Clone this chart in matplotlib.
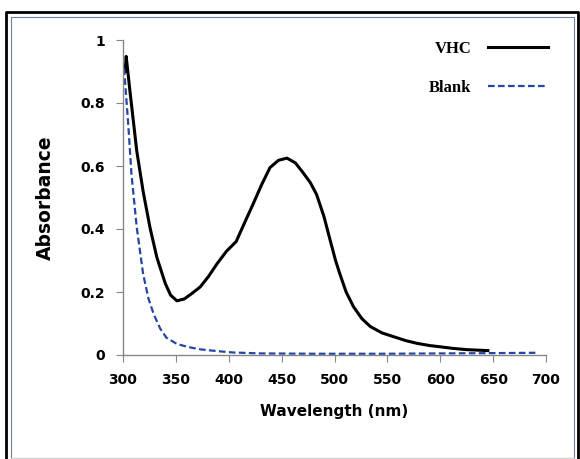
import matplotlib.pyplot as plt
from matplotlib.lines import Line2D

# absorbance spectra
wl_vhc = [302, 303, 306.6, 313, 319, 325.5, 332, 340, 345, 351, 358, 365, 373, 381, 389, 398,
          407, 415, 423, 431, 439, 447, 455, 463, 470, 477, 483, 490, 496, 501, 505, 511,
          518, 526, 534, 545, 556, 567, 578, 590, 600, 612, 625, 645]
abs_vhc = [0.90, 0.948, 0.837, 0.648, 0.52, 0.405, 0.31, 0.227, 0.19, 0.172, 0.178, 0.195, 0.216,
           0.25, 0.29, 0.33, 0.36, 0.42, 0.479, 0.54, 0.595, 0.618, 0.625, 0.61, 0.58, 0.548,
           0.51, 0.44, 0.363, 0.30, 0.258, 0.2, 0.153, 0.115, 0.09, 0.07, 0.058, 0.046, 0.037,
           0.03, 0.026, 0.021, 0.017, 0.014]

wl_blank = [301, 305, 308, 313, 319, 324, 329, 335, 341, 351, 362, 373, 390, 404, 430, 480,
            550, 600, 650, 690]
abs_blank = [0.91, 0.73, 0.574, 0.405, 0.258, 0.18, 0.13, 0.085, 0.055, 0.035, 0.025, 0.018,
             0.012, 0.008, 0.005, 0.004, 0.004, 0.005, 0.006, 0.007]

x_ticks = [300, 350, 400, 450, 500, 550, 600, 650, 700]
y_ticks = [0, 0.2, 0.4, 0.6, 0.8, 1]
y_labels = ["0", "0.2", "0.4", "0.6", "0.8", "1"]

W, H = 580, 459
fig = plt.figure(figsize=(W / 100, H / 100), dpi=100)
ax = fig.add_axes([123 / W, 1 - 355 / H, (546 - 123) / W, (355 - 40) / H])

ax.plot(wl_vhc, abs_vhc, color="black", linewidth=2.2, label="VHC")
ax.plot(wl_blank, abs_blank, color="#2646a6", linewidth=1.6, linestyle=(0, (3, 1.5)), label="Blank")

ax.set_xlim(300, 700)
ax.set_ylim(0, 1)
ax.set_xticks(x_ticks)
ax.set_yticks(y_ticks)
ax.set_yticklabels(y_labels)
for s in ["top", "right"]:
    ax.spines[s].set_visible(False)
for s in ["left", "bottom"]:
    ax.spines[s].set_color("#868686")
    ax.spines[s].set_linewidth(1.0)
ax.tick_params(direction="out", length=5, color="#868686", labelsize=10, pad=8)
for lab in ax.get_xticklabels() + ax.get_yticklabels():
    lab.set_fontweight("bold")

ax.set_xlabel("Wavelength (nm)", fontsize=11, fontweight="bold", labelpad=12)
ax.set_ylabel("Absorbance", fontsize=13.5, fontweight="bold", labelpad=18)

ax.legend(loc="upper right", bbox_to_anchor=(548 / W, 1 - 41 / H), bbox_transform=fig.transFigure,
          frameon=False, markerfirst=False, borderpad=0, borderaxespad=0,
          handlelength=3.6, handletextpad=1.0, labelspacing=1.35,
          prop={"family": "Liberation Serif", "weight": "bold", "size": 12})

# frame lines around the picture
def fline(xs, ys, **kw):
    fig.add_artist(Line2D([x / W for x in xs], [1 - y / H for y in ys], transform=fig.transFigure, **kw))

fline([6, 6, 578, 578], [H + 5, 12, 12, H + 5], color="black", linewidth=2)
fline([11, 11, 574, 574], [H + 5, 17, 17, H + 5], color="#6f819e", linewidth=0.8)
fline([11, 574], [457.5, 457.5], color="#d0d0d0", linewidth=1)

fig.savefig("out.png", dpi=100)
